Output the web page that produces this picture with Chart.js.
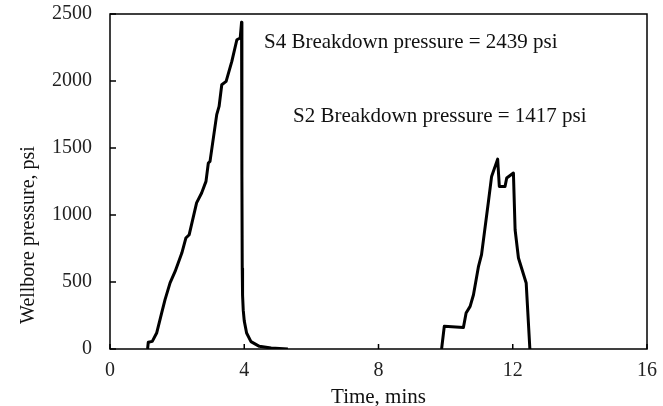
<!DOCTYPE html>
<html>
<head>
<meta charset="utf-8">
<script src="https://cdn.jsdelivr.net/npm/chart.js@4.4.1/dist/chart.umd.min.js"></script>
<style>
  html, body { margin: 0; padding: 0; background: #fff; }
  #wrap { width: 663px; height: 406px; }
</style>
</head>
<body>
<div id="wrap"><canvas id="chart"></canvas></div>
<script>
// S4 test (time in mins, pressure in psi)
const s4Time = [1.12, 1.14, 1.26, 1.39, 1.54, 1.64, 1.79, 1.94, 2.14, 2.26, 2.36, 2.58, 2.73, 2.86, 2.93, 2.98,
  3.18, 3.25, 3.33, 3.46, 3.63, 3.78, 3.88, 3.92, 3.93, 3.94, 3.95, 3.97, 4.0, 4.07, 4.2, 4.45, 4.8, 5.3];
const s4Pressure = [0, 50, 57, 119, 269, 368, 493, 579, 716, 828, 853, 1090, 1164, 1251, 1388, 1400,
  1749, 1810, 1972, 1997, 2146, 2308, 2321, 2439, 1300, 600, 400, 290, 210, 119, 55, 20, 7, 0];

// S2 test
const s2Time = [9.88, 9.96, 10.53, 10.61, 10.73, 10.83, 10.98, 11.07, 11.27, 11.37, 11.55, 11.6, 11.77, 11.82,
  12.02, 12.07, 12.17, 12.4, 12.51];
const s2Pressure = [0, 169, 161, 269, 318, 405, 617, 704, 1090, 1288, 1417, 1213, 1213, 1276,
  1313, 890, 679, 493, 0];

const xTicks = [0, 4, 8, 12, 16];
const yTicks = [0, 500, 1000, 1500, 2000, 2500];

const notes = [
  { text: 'S4 Breakdown pressure = 2439 psi', x: 264, y: 48 },
  { text: 'S2 Breakdown pressure = 1417 psi', x: 293, y: 122 }
];

const serif = '"Liberation Serif", "Times New Roman", serif';

const toPoints = (xs, ys) => xs.map((x, i) => ({ x: x, y: ys[i] }));

// frame, inner ticks, axis titles and notes
const decor = {
  id: 'decor',
  afterDraw(chart) {
    const { ctx, chartArea: a, scales } = chart;
    ctx.save();
    ctx.strokeStyle = '#000';
    ctx.lineWidth = 1.5;
    ctx.strokeRect(a.left, a.top, a.right - a.left, a.bottom - a.top);
    ctx.beginPath();
    yTicks.forEach(v => {
      const y = scales.y.getPixelForValue(v);
      ctx.moveTo(a.left, y);
      ctx.lineTo(a.left + 6, y);
    });
    xTicks.forEach(v => {
      const x = scales.x.getPixelForValue(v);
      ctx.moveTo(x, a.bottom);
      ctx.lineTo(x, a.bottom - 5);
    });
    ctx.stroke();

    ctx.fillStyle = '#111';
    ctx.font = '21px ' + serif;
    ctx.textBaseline = 'alphabetic';
    ctx.textAlign = 'left';
    notes.forEach(n => ctx.fillText(n.text, n.x, n.y));

    ctx.textAlign = 'center';
    ctx.textBaseline = 'middle';
    ctx.fillText('Time, mins', (a.left + a.right) / 2, 397);
    ctx.font = '20px ' + serif;
    ctx.translate(29, 235);
    ctx.rotate(-Math.PI / 2);
    ctx.fillText('Wellbore pressure, psi', 0, 0);
    ctx.restore();
  }
};

new Chart(document.getElementById('chart'), {
  type: 'scatter',
  data: {
    datasets: [
      { label: 'S4', data: toPoints(s4Time, s4Pressure) },
      { label: 'S2', data: toPoints(s2Time, s2Pressure) }
    ]
  },
  options: {
    responsive: true,
    maintainAspectRatio: false,
    animation: false,
    showLine: true,
    elements: {
      line: { borderColor: '#000', borderWidth: 3, tension: 0, borderJoinStyle: 'round' },
      point: { radius: 0 }
    },
    layout: { padding: { top: 14, right: 16, left: 0, bottom: 0 } },
    plugins: { legend: { display: false }, tooltip: { enabled: false } },
    scales: {
      x: {
        type: 'linear',
        min: 0,
        max: 16,
        afterFit: s => { s.height = 57; s.paddingLeft = 0; s.paddingRight = 0; },
        afterBuildTicks: s => { s.ticks = xTicks.map(v => ({ value: v })); },
        grid: { display: false, drawTicks: false },
        border: { display: false },
        ticks: { color: '#222', padding: 10, font: { family: serif, size: 20 } }
      },
      y: {
        type: 'linear',
        min: 0,
        max: 2500,
        afterFit: s => { s.width = 110; s.paddingTop = 0; s.paddingBottom = 0; },
        afterBuildTicks: s => { s.ticks = yTicks.map(v => ({ value: v })); },
        grid: { display: false, drawTicks: false },
        border: { display: false },
        ticks: {
          color: '#222',
          padding: 18,
          font: { family: serif, size: 20 },
          callback: v => String(v)
        }
      }
    }
  },
  plugins: [decor]
});
</script>
</body>
</html>
